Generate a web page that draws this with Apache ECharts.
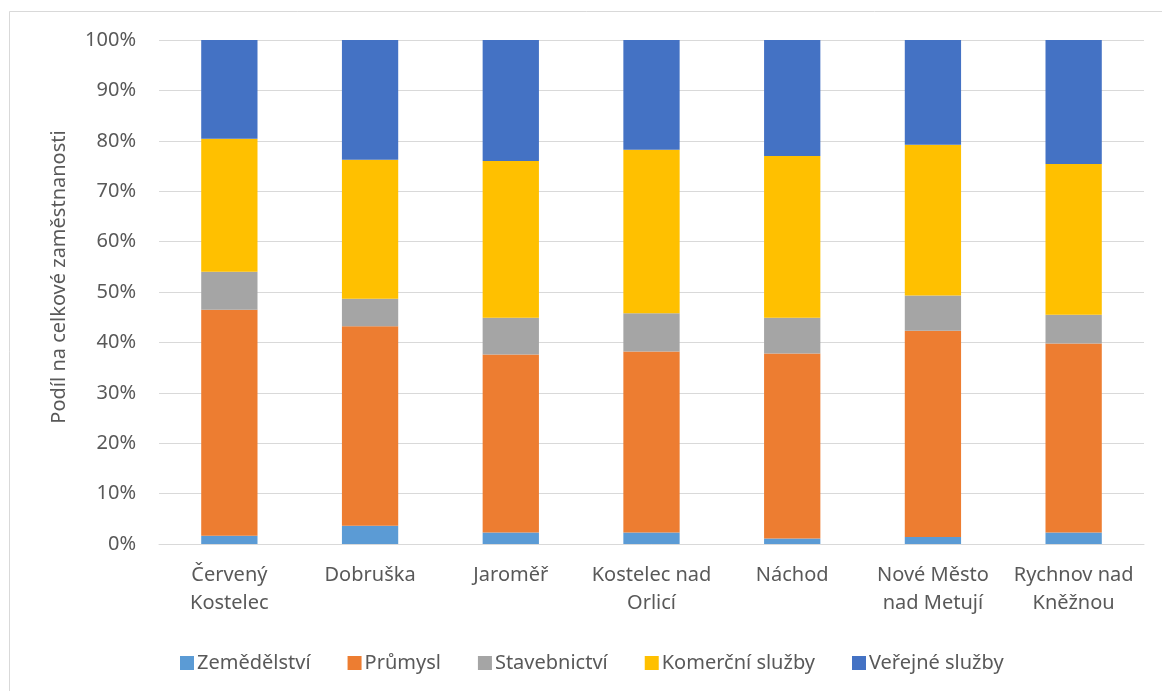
<!DOCTYPE html>
<html>
<head>
<meta charset="utf-8">
<script src="https://cdn.jsdelivr.net/npm/echarts@6/dist/echarts.min.js"></script>
<style>
html,body{margin:0;padding:0;background:#fff;}
#chart{width:1162px;height:691px;}
</style>
</head>
<body>
<div id="chart"></div>
<script>
const categories = ['Červený\nKostelec', 'Dobruška', 'Jaroměř', 'Kostelec nad\nOrlicí', 'Náchod', 'Nové Město\nnad Metují', 'Rychnov nad\nKněžnou'];
const zemedelstvi = [1.65, 3.6, 2.3, 2.3, 1.1, 1.4, 2.3];
const prumysl = [44.85, 39.6, 35.3, 35.9, 36.7, 40.9, 37.5];
const stavebnictvi = [7.5, 5.45, 7.3, 7.6, 7.1, 7.0, 5.7];
const komercni = [26.4, 27.6, 31.1, 32.4, 32.1, 29.9, 29.9];
const verejne = [19.6, 23.75, 24.0, 21.8, 23.0, 20.8, 24.6];
const yTicks = ['0%', '10%', '20%', '30%', '40%', '50%', '60%', '70%', '80%', '90%', '100%'];

const FONT = 'Noto Sans';
const FS = 20;
const TXT = '#595959';
const names = ['Zemědělství', 'Průmysl', 'Stavebnictví', 'Komerční služby', 'Veřejné služby'];
const colors = ['#5B9BD5', '#ED7D31', '#A5A5A5', '#FFC000', '#4472C4'];
const dataSets = [zemedelstvi, prumysl, stavebnictvi, komercni, verejne];

const chart = echarts.init(document.getElementById('chart'), null, {renderer: 'canvas'});
chart.setOption({
  animation: false,
  backgroundColor: '#fff',
  color: colors,
  textStyle: {fontFamily: FONT},
  grid: {left: 159, right: 18, top: 40, bottom: 147, containLabel: false},
  graphic: [
    {type: 'rect', shape: {x: 9.5, y: 11.5, width: 1170, height: 700}, style: {fill: 'none', stroke: '#D9D9D9', lineWidth: 1}, silent: true},
    {type: 'text', x: 59, y: 277, rotation: Math.PI / 2,
     style: {text: 'Podíl na celkové zaměstnanosti', fill: TXT, font: FS + 'px "' + FONT + '"', align: 'center', verticalAlign: 'middle'}}
  ],
  legend: {
    left: 175, top: 648, itemWidth: 14, itemHeight: 14, itemGap: 37, icon: 'rect',
    textStyle: {color: TXT, fontSize: FS, fontFamily: FONT, padding: [0, 0, 0, -2]},
    data: names
  },
  xAxis: {
    type: 'category', data: categories,
    axisLine: {show: true, lineStyle: {color: '#D9D9D9', width: 1}},
    axisTick: {show: false},
    axisLabel: {color: TXT, fontSize: FS, fontFamily: FONT, lineHeight: 28, margin: 17, interval: 0}
  },
  yAxis: {
    type: 'value', min: 0, max: 100, interval: 10,
    axisLine: {show: false}, axisTick: {show: false},
    splitLine: {lineStyle: {color: '#D9D9D9', width: 1}},
    axisLabel: {color: TXT, fontSize: FS, fontFamily: FONT, margin: 23,
      formatter: v => yTicks[Math.round(v / 10)]}
  },
  series: dataSets.map((d, i) => ({
    name: names[i], type: 'bar', stack: 'total', data: d,
    barWidth: '40%',
    itemStyle: {color: colors[i]}
  }))
});
</script>
</body>
</html>
